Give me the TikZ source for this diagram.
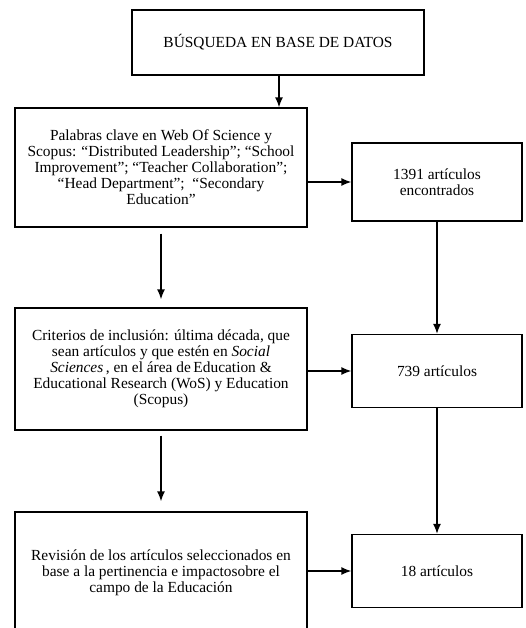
\documentclass[tikz,border=0pt]{standalone}
\usepackage{fontspec}
\setmainfont{Liberation Serif}
\usetikzlibrary{arrows.meta}

\begin{document}
\begin{tikzpicture}[
  x=1pt, y=-1pt,
  box/.style={draw, line width=1.3pt, align=center, inner sep=2pt,
    font=\fontsize{15.4}{16}\selectfont},
  wide/.style={box, minimum width=292pt},
  small/.style={box, minimum width=170pt},
  arrow/.style={-{Latex[length=10pt,width=8pt]}, line width=1.5pt}
]
\useasboundingbox (0,0) rectangle (526,628);

% Left column: search steps
\node[box, minimum width=292pt, minimum height=65pt] (search) at (278,42.5)
  {BÚSQUEDA EN BASE DE DATOS};
\node[wide, minimum height=119pt] (keywords) at (161,167.5)
  {Palabras clave en Web Of Science y\\
   Scopus: “Distributed Leadership”; “School\\
   Improvement”; “Teacher Collaboration”;\\
   “Head Department”;\ \ “Secondary\\
   Education”};
\node[wide, minimum height=122pt] (criteria) at (161,369)
  {Criterios de inclusión: última década, que\\
   sean artículos y que estén en \textit{Social}\\
   \textit{Sciences}\,, en el área de\,Education \&\\
   Educational Research (WoS) y Education\\
   (Scopus)};
\node[wide, minimum height=122pt] (review) at (161,573)
  {Revisión de los artículos seleccionados en\\
   base a la pertinencia e impactosobre el\\
   campo de la Educación};

% Right column: counts
\node[small, minimum height=78pt] (found) at (437,182)
  {1391 artículos\\ encontrados};
\node[small, minimum height=73pt] (kept) at (437,371) {739 artículos};
\node[small, minimum height=73pt] (final) at (437,571) {18 artículos};

% Vertical arrows
\draw[arrow] ([xshift=1pt]search.south) -- ([xshift=1pt]search.south |- keywords.north);
\draw[arrow, shorten <=6pt, shorten >=8pt] (keywords.south) -- (criteria.north);
\draw[arrow, shorten <=5pt, shorten >=10pt] (criteria.south) -- (review.north);
\draw[arrow] (found.south) -- (kept.north);
\draw[arrow] (kept.south) -- (final.north);

% Horizontal arrows
\draw[arrow] (keywords.east |- found.west) -- (found.west);
\draw[arrow] (criteria.east |- kept.west) -- (kept.west);
\draw[arrow] (review.east |- final.west) -- (final.west);
\end{tikzpicture}
\end{document}
